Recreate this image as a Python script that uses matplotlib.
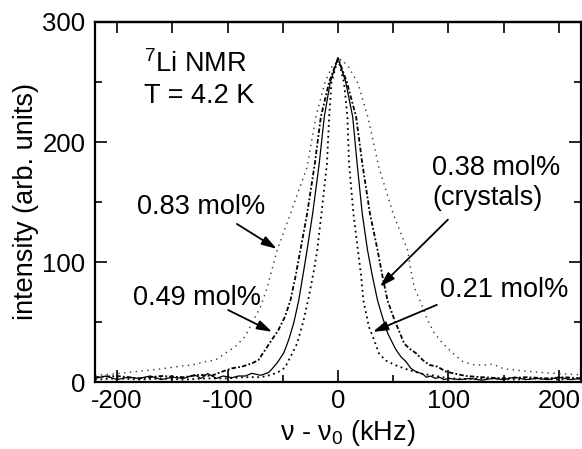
import matplotlib
matplotlib.use("Agg")
import matplotlib.pyplot as plt
from matplotlib.ticker import MultipleLocator

plt.rcParams['font.family'] = ['Liberation Sans', 'DejaVu Sans']
plt.rcParams['mathtext.fontset'] = 'custom'
plt.rcParams['mathtext.rm'] = 'Liberation Sans'
plt.rcParams['mathtext.it'] = 'Liberation Sans'
plt.rcParams['mathtext.default'] = 'regular'
plt.rcParams['axes.unicode_minus'] = False

# 7Li NMR spectra at 4.2 K: frequency offset (kHz) and intensity (arb. units)
x_083 = [-220, -200, -180, -160, -140, -133, -120, -111, -102, -93, -84, -78, -70, -64,
         -60, -55, -42, -28, -20, -12, -5, 3, 10, 18, 27, 37, 50, 63, 66, 69, 75, 81,
         87, 95, 104, 113, 122, 131, 140, 150, 165, 183, 200, 220]
y_083 = [5.5, 7, 9, 11, 13.5, 14, 17, 18.3, 24, 29.5, 38, 49, 63, 79,
         93, 110, 143, 179, 221, 249, 264, 269, 262, 249, 221, 179, 140, 110, 93, 79, 66, 52,
         41, 32, 24, 17, 14.5, 14, 15, 11, 9.5, 8, 7, 6]

x_049 = [-220, -200, -180, -160, -140, -125, -115, -105, -96, -87, -78, -72, -66, -60,
         -54, -48, -43, -38.5, -34, -28, -21, -15.5, -8, 0, 8, 16.4, 22, 29, 35.8, 40.3,
         44.8, 51, 55.5, 60, 64.5, 70.6, 76.7, 82.7, 90, 98, 107, 116, 130, 150, 170,
         190, 205, 220]
y_049 = [4, 5, 3, 5, 4, 6, 5, 8.6, 11.4, 12.8, 15.5, 18.3, 26.7, 35,
         43.3, 54.4, 68.3, 87.8, 110, 140, 182, 221, 250, 270, 250, 221, 182, 140, 110, 88,
         68, 52, 42, 32, 28, 24, 18.3, 14.2, 12.8, 8.6, 6.7, 5, 4, 3, 4,
         3, 4, 3]

x_038 = [-220, -210, -200, -190, -180, -170, -160, -150, -140, -130, -124, -118, -110,
         -104, -96, -90, -84, -78, -70, -63, -60, -55, -49, -44.5, -40, -35.5, -31, -28,
         -23, -17, -12.4, -7, 0, 7, 13.3, 17.3, 22, 26.7, 31.2, 35.8, 40.3, 44.8, 48,
         52.4, 57, 61.5, 66, 70.6, 76.7, 80, 84, 88, 92, 96, 100, 110, 120, 130, 140,
         150, 160, 170, 180, 190, 200, 210, 220]
y_038 = [3, 5, 2, 4, 3, 5, 2, 4, 3, 6, 3, 7, 3,
         5, 3.6, 5, 5, 7.2, 5.6, 7.8, 10.6, 16, 24.4, 35.5, 49.4, 68.3, 93, 110,
         140, 182, 221, 250, 270, 250, 221, 182, 140, 110, 88, 68, 54, 41, 35,
         27, 21, 17, 11.4, 8.6, 6.7, 4, 5, 3, 3.9, 2, 3, 2, 3, 1.5, 3,
         2, 4, 2, 3, 2, 4, 2, 3]

x_021 = [-220, -200, -180, -160, -140, -120, -100, -85, -70, -60, -53.6, -48, -44.5, -37,
         -31, -26.4, -21.8, -18.8, -15, -10, -8, -6, 0, 5.5, 8.5, 10, 14, 18, 21, 23,
         28, 32.7, 37, 43, 52, 64, 77, 89, 100, 120, 140, 160, 180, 200, 220]
y_021 = [2, 3, 2, 3, 2, 3, 3, 4, 4, 6, 8.6, 12, 18.3, 32,
         52, 71, 93, 110, 140, 182, 221, 249, 270, 249, 221, 182, 140, 110, 88, 68,
         46, 35, 24, 18, 14, 10, 6.7, 5, 3, 2.5, 3, 2, 3, 2, 3]

fig = plt.figure(figsize=(5.82, 4.49), dpi=100)
ax = fig.add_axes([95 / 582, 1 - 382 / 449, 486 / 582, 360 / 449])

ax.plot(x_083, y_083, color='#333333', lw=1.0, ls=(0, (1, 3.2)))
ax.plot(x_049, y_049, color='black', lw=1.3, ls=(0, (2.5, 1.2, 1, 1.2)))
ax.plot(x_038, y_038, color='black', lw=0.9, ls='-')
ax.plot(x_021, y_021, color='black', lw=1.3, ls=(0, (1, 2)))

ax.set_xlim(-220, 220)
ax.set_ylim(0, 300)

ax.xaxis.set_major_locator(MultipleLocator(100))
ax.xaxis.set_minor_locator(MultipleLocator(50))
ax.yaxis.set_major_locator(MultipleLocator(100))
ax.yaxis.set_minor_locator(MultipleLocator(50))
ax.tick_params(which='both', direction='in', width=1.2, labelsize=18.5,
               bottom=True, left=True, right=True, top=False)
ax.tick_params(which='major', length=8.5)
ax.tick_params(which='minor', length=5)
ax.tick_params(axis='x', which='major', pad=5)
ax.tick_params(axis='y', which='major', pad=7)

# top axis: evenly sized ticks every 50 kHz, no labels
top = ax.secondary_xaxis('top')
top.xaxis.set_major_locator(MultipleLocator(50))
top.tick_params(direction='in', length=8, width=1.2, labeltop=False)
top.spines['top'].set_linewidth(1.6)

for s in ax.spines.values():
    s.set_linewidth(1.6)

ax.set_xlabel(r'ν - ν$_0$ (kHz)', fontsize=19.5, labelpad=0)
ax.xaxis.set_label_coords(0.52, -0.1)
ax.set_ylabel('intensity (arb. units)', fontsize=19.5, labelpad=2)

fs = 19.5
ax.text(-176, 265, r'$^7$Li NMR', fontsize=fs, ha='left', va='center')
ax.text(-176, 238, 'T = 4.2 K', fontsize=fs, ha='left', va='center')

arrow = dict(arrowstyle='-|>,head_length=0.9,head_width=0.28', lw=1.3, color='black',
             shrinkA=0, shrinkB=0)
ax.text(-124, 146, '0.83 mol%', fontsize=fs, ha='center', va='center')
ax.annotate('', xy=(-55.5, 111), xytext=(-91.5, 131.7), arrowprops=arrow)

ax.text(-127.5, 70, '0.49 mol%', fontsize=fs, ha='center', va='center')
ax.annotate('', xy=(-59.7, 41.8), xytext=(-99.5, 60), arrowprops=arrow)

ax.text(85, 166, '0.38 mol%\n(crystals)', fontsize=fs, ha='left', va='center',
        linespacing=1.2)
ax.annotate('', xy=(38, 79.4), xytext=(99.5, 135.3), arrowprops=arrow)

ax.text(92, 77, '0.21 mol%', fontsize=fs, ha='left', va='center')
ax.annotate('', xy=(31.6, 41.8), xytext=(89.5, 64.3), arrowprops=arrow)

fig.savefig('out.png', dpi=100)
